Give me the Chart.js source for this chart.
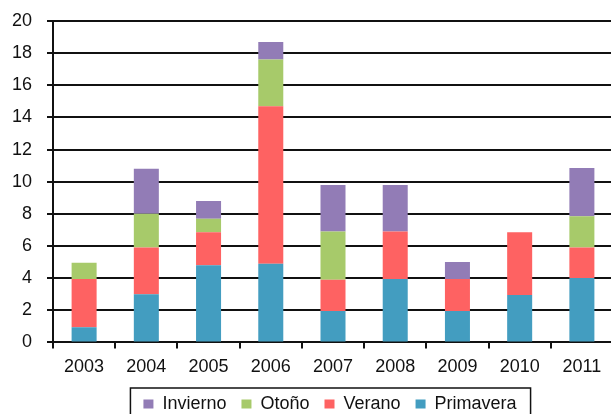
<!DOCTYPE html>
<html>
<head>
<meta charset="utf-8">
<script src="https://cdn.jsdelivr.net/npm/chart.js@4/dist/chart.umd.min.js"></script>
<style>
html,body{margin:0;padding:0;background:#fff;overflow:hidden;width:611px;height:414px}
#wrap{position:relative;width:613px;height:430px}
canvas{display:block}
</style>
</head>
<body>
<div id="wrap"><canvas id="c" width="613" height="430" style="width:613px;height:430px"></canvas></div>
<script>
const categories = ['2003','2004','2005','2006','2007','2008','2009','2010','2011'];
const primavera = [0.95, 3.0, 4.8, 4.9, 1.95, 3.95, 1.95, 2.95, 4.0];
const verano    = [3.0, 2.9, 2.05, 9.8, 1.95, 2.95, 2.0, 3.9, 1.9];
const otono     = [1.0, 2.1, 0.85, 2.9, 3.0, null, null, null, 1.95];
const invierno  = [null, 2.8, 1.1, 1.1, 2.9, 2.9, 1.05, null, 3.0];
const yTicks = { min: 0, max: 20, step: 2 };

Chart.defaults.font.family = "'Liberation Sans', Arial, Helvetica, sans-serif";
Chart.defaults.font.size = 18;
Chart.defaults.color = '#111';

const legendBox = {
  id: 'legendBox',
  afterLayout(chart) {
    const lg = chart.legend;
    const dx = 330 - (lg.left + lg.right) / 2;
    lg.left += dx; lg.right += dx;
    lg.top -= 6; lg.bottom -= 6;
  },
  afterDraw(chart) {
    const hb = chart.legend.legendHitBoxes;
    if (!hb || !hb.length) return;
    const last = hb[hb.length - 1];
    const l = hb[0].left - 13;
    const r = last.left + last.width + 14;
    const t = hb[0].top - 7;
    const ctx = chart.ctx;
    ctx.save();
    ctx.strokeStyle = '#111';
    ctx.lineWidth = 1.5;
    ctx.strokeRect(l, t, r - l, 60);
    ctx.restore();
  }
};

new Chart(document.getElementById('c'), {
  type: 'bar',
  data: {
    labels: categories,
    datasets: [
      { label: 'Primavera', data: primavera, backgroundColor: '#439DC0' },
      { label: 'Verano', data: verano, backgroundColor: '#FE6262' },
      { label: 'Otoño', data: otono, backgroundColor: '#A7CA6A' },
      { label: 'Invierno', data: invierno, backgroundColor: '#927CB6' }
    ]
  },
  options: {
    responsive: false,
    animation: false,
    devicePixelRatio: 1,
    datasets: { bar: { categoryPercentage: 1, barPercentage: 0.402, borderWidth: 0 } },
    layout: { padding: { top: 21, bottom: 1, left: 0, right: 0 } },
    scales: {
      x: {
        stacked: true,
        grid: { drawOnChartArea: false, drawTicks: true, tickLength: 6, color: '#111', lineWidth: 2 },
        border: { display: true, color: '#111', width: 2 },
        ticks: { padding: 8, color: '#111', maxRotation: 0 }
      },
      y: {
        stacked: true,
        min: yTicks.min, max: yTicks.max,
        afterFit(scale) { scale.width = 53; scale.paddingTop = 0; scale.paddingBottom = 0; },
        grid: { color: '#111', lineWidth: 2, drawTicks: true, tickLength: 6 },
        border: { display: true, color: '#111', width: 2 },
        ticks: { stepSize: yTicks.step, padding: 15, color: '#111' }
      }
    },
    plugins: {
      legend: {
        position: 'bottom',
        reverse: true,
        labels: { boxWidth: 10, boxHeight: 9, padding: 15, color: '#111', font: { size: 18 } }
      },
      tooltip: { enabled: false }
    }
  },
  plugins: [legendBox]
});
</script>
</body>
</html>
